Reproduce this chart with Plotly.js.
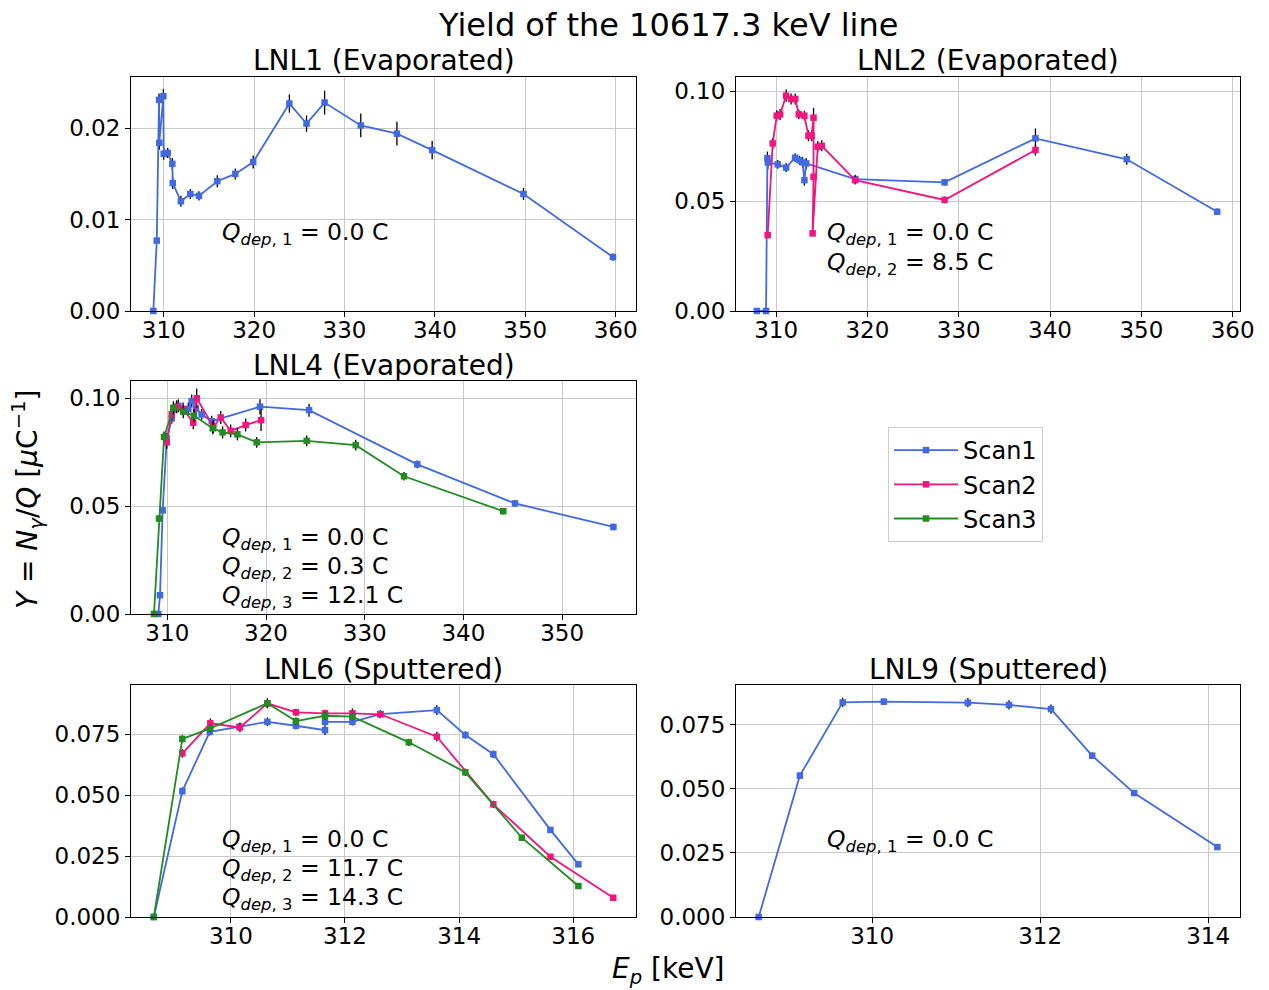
<!DOCTYPE html>
<html>
<head>
<meta charset="utf-8">
<script src="https://cdn.plot.ly/plotly-3.0.1.min.js"></script>
<style>html,body{margin:0;padding:0;background:#fff;}</style>
</head>
<body>
<div id="chart" style="width:1269px;height:990px;"></div>
<script>
// ---------------- DATA ----------------
// LNL1 (Evaporated)
const lnl1_s1_x = [308.85, 309.23, 309.48, 309.51, 309.96, 310.0, 310.44, 310.95, 311.0, 311.9, 312.94, 313.9, 315.93, 317.92, 319.9, 323.9, 325.8, 327.8, 331.8, 335.8, 339.7, 349.8, 359.7];
const lnl1_s1_y = [0.0, 0.0077, 0.0231, 0.0184, 0.0235, 0.0172, 0.0173, 0.0161, 0.0140, 0.0120, 0.0128, 0.0126, 0.0142, 0.0150, 0.0163, 0.0227, 0.0205, 0.0228, 0.0203, 0.0194, 0.0176, 0.0128, 0.0059];
const lnl1_s1_e = [0.0001, 0.0003, 0.0007, 0.00075, 0.0008, 0.00065, 0.00055, 0.00065, 0.00065, 0.0006, 0.00055, 0.0005, 0.00065, 0.0006, 0.0007, 0.001, 0.0009, 0.0013, 0.0013, 0.0013, 0.001, 0.00065, 0.0004];

// LNL2 (Evaporated)
const lnl2_s1_x = [307.9, 308.9, 309.05, 309.1, 310.18, 311.1, 312.08, 312.55, 312.9, 313.1, 313.3, 318.66, 328.45, 338.4, 348.4, 358.3];
const lnl2_s1_y = [0, 0, 0.0695, 0.0675, 0.0667, 0.0652, 0.0697, 0.0686, 0.0676, 0.0595, 0.0671, 0.0600, 0.0585, 0.0785, 0.0690, 0.0451];
const lnl2_s1_e = [0.0005, 0.0005, 0.003, 0.003, 0.002, 0.002, 0.002, 0.002, 0.0025, 0.0025, 0.0025, 0.002, 0.0015, 0.0045, 0.0025, 0.0015];
const lnl2_s2_x = [309.08, 309.63, 310.07, 310.44, 311.1, 311.64, 312.1, 312.48, 313.1, 313.54, 313.9, 314.1, 314.1, 314.0, 314.56, 315.0, 318.66, 328.45, 338.4];
const lnl2_s2_y = [0.0345, 0.0762, 0.0888, 0.0894, 0.0979, 0.0964, 0.0964, 0.0894, 0.0888, 0.0797, 0.0797, 0.0879, 0.061, 0.0353, 0.0747, 0.0751, 0.0595, 0.0505, 0.0732];
const lnl2_s2_e = [0.001, 0.0025, 0.0025, 0.0025, 0.0028, 0.0025, 0.0025, 0.0022, 0.0022, 0.0025, 0.0025, 0.0045, 0.0025, 0.001, 0.0025, 0.0025, 0.002, 0.0015, 0.0025];

// LNL4 (Evaporated)
const lnl4_s1_x = [309.09, 309.26, 309.53, 309.94, 310.45, 311.12, 312.13, 312.47, 312.9, 313.48, 314.5, 319.39, 324.36, 335.33, 345.23, 355.2];
const lnl4_s1_y = [0, 0.0087, 0.048, 0.0813, 0.0906, 0.0964, 0.0949, 0.0986, 0.0952, 0.0924, 0.0893, 0.096, 0.0944, 0.0693, 0.0512, 0.0403];
const lnl4_s1_e = [0.0003, 0.0008, 0.0015, 0.0025, 0.0025, 0.003, 0.003, 0.003, 0.003, 0.0025, 0.0025, 0.0035, 0.003, 0.0018, 0.0015, 0.0015];
const lnl4_s2_x = [309.94, 310.45, 310.95, 311.6, 312.63, 312.98, 314.66, 315.41, 316.42, 317.94, 319.5];
const lnl4_s2_y = [0.0795, 0.0925, 0.096, 0.095, 0.0886, 0.0999, 0.0867, 0.091, 0.0848, 0.0875, 0.0898];
const lnl4_s2_e = [0.003, 0.003, 0.003, 0.003, 0.003, 0.0045, 0.003, 0.003, 0.003, 0.003, 0.005];
const lnl4_s3_x = [308.65, 309.16, 309.67, 310.61, 311.62, 312.7, 314.6, 315.6, 317.1, 319.06, 324.12, 329.09, 333.98, 344.04];
const lnl4_s3_y = [0, 0.0442, 0.082, 0.0955, 0.0937, 0.0918, 0.086, 0.0841, 0.0832, 0.0795, 0.0802, 0.0782, 0.0638, 0.0476];
const lnl4_s3_e = [0.0003, 0.0015, 0.0025, 0.003, 0.003, 0.003, 0.0028, 0.0028, 0.0028, 0.0025, 0.0025, 0.0025, 0.002, 0.0015];

// LNL6 (Sputtered)
const lnl6_s1_x = [308.65, 309.15, 309.63, 310.15, 310.64, 311.14, 311.65, 311.65, 312.13, 312.62, 313.61, 314.11, 314.6, 315.6, 316.09];
const lnl6_s1_y = [0, 0.0516, 0.0759, 0.078, 0.080, 0.0784, 0.0766, 0.080, 0.080, 0.0832, 0.0848, 0.0746, 0.0667, 0.0357, 0.0216];
const lnl6_s1_e = [0.0003, 0.0015, 0.0015, 0.0015, 0.0018, 0.0015, 0.002, 0.0015, 0.0015, 0.0015, 0.002, 0.0015, 0.0015, 0.001, 0.0008];
const lnl6_s2_x = [309.15, 309.64, 310.16, 310.64, 311.14, 311.65, 312.13, 312.62, 313.61, 314.6, 315.6, 316.7];
const lnl6_s2_y = [0.0671, 0.0794, 0.0777, 0.0876, 0.0839, 0.0835, 0.0835, 0.0831, 0.0739, 0.0462, 0.0247, 0.0079];
const lnl6_s2_e = [0.0018, 0.002, 0.002, 0.002, 0.0015, 0.0015, 0.002, 0.0015, 0.002, 0.0015, 0.001, 0.0008];
const lnl6_s3_x = [308.65, 309.15, 309.64, 310.64, 311.14, 311.65, 312.13, 313.12, 314.11, 315.1, 316.09];
const lnl6_s3_y = [0, 0.073, 0.0773, 0.0876, 0.0803, 0.0825, 0.0821, 0.0716, 0.0593, 0.0325, 0.0127];
const lnl6_s3_e = [0.0003, 0.0015, 0.0015, 0.002, 0.0015, 0.0015, 0.0015, 0.0015, 0.0015, 0.001, 0.0008];

// LNL9 (Sputtered)
const lnl9_s1_x = [308.65, 309.14, 309.65, 310.14, 311.14, 311.63, 312.13, 312.62, 313.12, 314.11];
const lnl9_s1_y = [0, 0.0552, 0.0838, 0.0841, 0.0837, 0.0828, 0.0812, 0.063, 0.0484, 0.0273];
const lnl9_s1_e = [0.0002, 0.0012, 0.0018, 0.0012, 0.0018, 0.0018, 0.0018, 0.0012, 0.001, 0.0008];

// Labels
const scanNames = ["Scan1", "Scan2", "Scan3"];
const scanColors = ["#4169E1", "#F0157F", "#228B22"];
const panelTitles = ["LNL1 (Evaporated)", "LNL2 (Evaporated)", "LNL4 (Evaporated)", "LNL6 (Sputtered)", "LNL9 (Sputtered)"];
const qdep_lnl1 = [0.0];
const qdep_lnl2 = [0.0, 8.5];
const qdep_lnl4 = [0.0, 0.3, 12.1];
const qdep_lnl6 = [0.0, 11.7, 14.3];
const qdep_lnl9 = [0.0];
const mainTitle = "Yield of the 10617.3 keV line";

// ---------------- BUILD ----------------
const FONT = "DejaVu Sans, Liberation Sans, sans-serif";
const W = 1269, H = 990;
const px2x = p => p / W;
const py2y = p => (H - p) / H;

const traces = [];
function addTrace(x, y, e, scan, xa, ya, showlegend) {
  traces.push({
    x: x, y: y, xaxis: xa, yaxis: ya,
    type: 'scatter', mode: 'lines+markers',
    name: scanNames[scan], showlegend: showlegend,
    line: {color: scanColors[scan], width: 1.8},
    marker: {color: scanColors[scan], symbol: 'square', size: 6.5},
    error_y: {type: 'data', array: e, visible: true, color: 'black', thickness: 1.3, width: 0},
    cliponaxis: false
  });
}
addTrace(lnl1_s1_x, lnl1_s1_y, lnl1_s1_e, 0, 'x', 'y', false);
addTrace(lnl2_s1_x, lnl2_s1_y, lnl2_s1_e, 0, 'x2', 'y2', false);
addTrace(lnl2_s2_x, lnl2_s2_y, lnl2_s2_e, 1, 'x2', 'y2', false);
addTrace(lnl4_s1_x, lnl4_s1_y, lnl4_s1_e, 0, 'x3', 'y3', true);
addTrace(lnl4_s2_x, lnl4_s2_y, lnl4_s2_e, 1, 'x3', 'y3', true);
addTrace(lnl4_s3_x, lnl4_s3_y, lnl4_s3_e, 2, 'x3', 'y3', true);
addTrace(lnl6_s1_x, lnl6_s1_y, lnl6_s1_e, 0, 'x4', 'y4', false);
addTrace(lnl6_s2_x, lnl6_s2_y, lnl6_s2_e, 1, 'x4', 'y4', false);
addTrace(lnl6_s3_x, lnl6_s3_y, lnl6_s3_e, 2, 'x4', 'y4', false);
addTrace(lnl9_s1_x, lnl9_s1_y, lnl9_s1_e, 0, 'x5', 'y5', false);

// panel geometry in pixels [left, right, top, bottom]
const panels = [
  [131, 636, 77, 311],
  [736, 1240, 77, 311],
  [131, 636, 381, 614],
  [131, 636, 685, 917],
  [736, 1240, 685, 917]
];
const xr = [[306.38, 362.25], [305.61, 360.8], [306.32, 357.49], [308.25, 317.1], [308.38, 314.38]];
const yr = [[0, 0.0256], [0, 0.1064], [0, 0.1079], [0, 0.0951], [0, 0.0906]];
const xdt = [10, 10, 10, 2, 2];
const ydt = [0.01, 0.05, 0.05, 0.025, 0.025];
const yfmt = ['.2f', '.2f', '.2f', '.3f', '.3f'];

const layout = {
  width: W, height: H,
  margin: {l: 0, r: 0, t: 0, b: 0},
  paper_bgcolor: 'white', plot_bgcolor: 'white',
  font: {family: FONT, color: 'black', size: 23},
  showlegend: true,
  legend: {
    x: px2x(888), y: py2y(427), xanchor: 'left', yanchor: 'top',
    bordercolor: '#cccccc', borderwidth: 1, bgcolor: 'white',
    font: {family: FONT, size: 24, color: 'black'},
    itemwidth: 64, tracegroupgap: 0
  },
  annotations: [],
  shapes: []
};

panels.forEach((p, i) => {
  const n = i === 0 ? '' : String(i + 1);
  const common = {
    showline: true, linecolor: 'black', linewidth: 1, mirror: true,
    ticks: 'outside', ticklen: 5, tickcolor: 'black', tickwidth: 1,
    showgrid: true, gridcolor: '#c8c8c8', gridwidth: 1,
    zeroline: false, automargin: false,
    tickfont: {family: FONT, size: 23, color: 'black'}
  };
  layout['xaxis' + n] = Object.assign({}, common, {
    domain: [px2x(p[0]), px2x(p[1])], range: xr[i], dtick: xdt[i], tick0: 310,
    anchor: 'y' + n, ticklabelstandoff: -7
  });
  layout['yaxis' + n] = Object.assign({}, common, {
    domain: [py2y(p[3]), py2y(p[2])], range: yr[i], dtick: ydt[i], tick0: 0,
    tickformat: yfmt[i], anchor: 'x' + n
  });
  layout.annotations.push({
    text: panelTitles[i], xref: 'paper', yref: 'paper',
    x: px2x((p[0] + p[1]) / 2), y: py2y(p[2] - 16), xanchor: 'center', yanchor: 'middle',
    showarrow: false, font: {family: FONT, size: 28, color: 'black'}
  });
});

// Q_dep annotations
function qLines(vals, left, firstY) {
  vals.forEach((v, k) => {
    layout.annotations.push({
      text: '<i>Q</i><sub><i>dep</i>, ' + (k + 1) + '</sub> = ' + v.toFixed(1) + ' C',
      xref: 'paper', yref: 'paper', x: px2x(left), y: py2y(firstY + 29.3 * k),
      xanchor: 'left', yanchor: 'middle', showarrow: false,
      font: {family: FONT, size: 23.5, color: 'black'}
    });
  });
}
qLines(qdep_lnl1, 220, 234);
qLines(qdep_lnl2, 825, 234);
qLines(qdep_lnl4, 220, 538);
qLines(qdep_lnl6, 220, 840);
qLines(qdep_lnl9, 825, 840);

// Main title and axis labels
layout.annotations.push({
  text: mainTitle, xref: 'paper', yref: 'paper', x: px2x(668), y: py2y(25),
  xanchor: 'center', yanchor: 'middle', showarrow: false,
  font: {family: FONT, size: 32, color: 'black'}
});
layout.annotations.push({
  text: '<i>E<sub>p</sub></i> [keV]', xref: 'paper', yref: 'paper', x: px2x(668), y: py2y(970),
  xanchor: 'center', yanchor: 'middle', showarrow: false,
  font: {family: FONT, size: 28, color: 'black'}
});
layout.annotations.push({
  text: '<i>Y</i> = <i>N</i><sub><i>γ</i></sub>/<i>Q</i> [<i>μ</i>C<sup>−1</sup>]', xref: 'paper', yref: 'paper',
  x: px2x(28), y: py2y(500), xanchor: 'center', yanchor: 'middle', textangle: -90,
  showarrow: false, font: {family: FONT, size: 28, color: 'black'}
});

Plotly.newPlot('chart', traces, layout, {staticPlot: true});
</script>
</body>
</html>
